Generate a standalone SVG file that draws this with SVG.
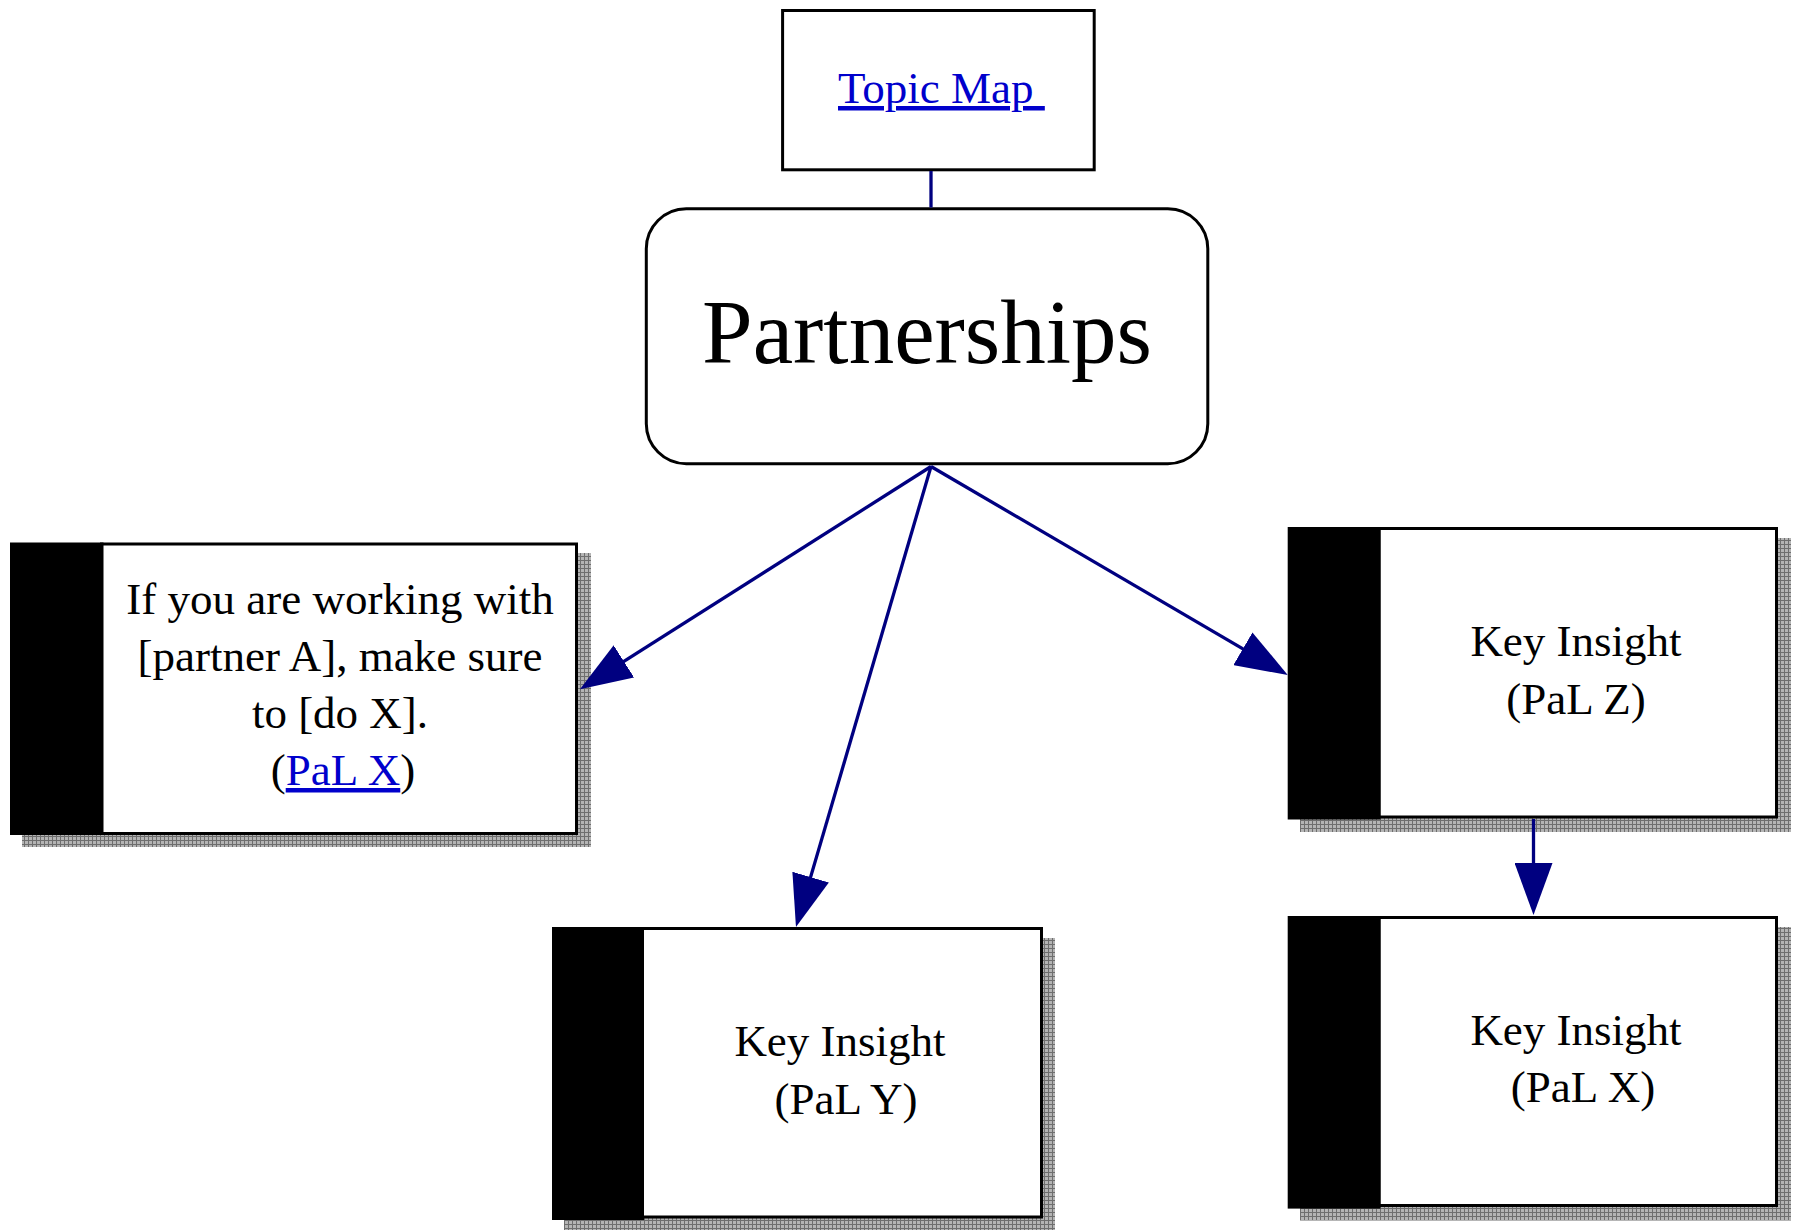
<svg xmlns="http://www.w3.org/2000/svg" width="1800" height="1230" viewBox="0 0 1800 1230">
<defs>
<style>
text{font-family:"Liberation Serif","Times New Roman",serif;fill:#000}
.box{fill:#fff;stroke:#000;stroke-width:3}
.blk{fill:#000}
.shadow{fill:url(#dither)}
.lbl{font-size:45px;text-anchor:middle}
.link{fill:#0000cc;text-decoration:underline}
.conn{stroke:#000080;stroke-width:3.3;fill:none}
</style>
<pattern id="dither" x="0" y="0" width="4" height="4" patternUnits="userSpaceOnUse">
<rect width="4" height="4" fill="#b4b4b4"/>
<rect width="4" height="1" fill="#6e6e6e"/>
<rect width="1" height="4" fill="#6e6e6e"/>
</pattern>
<marker id="arr" viewBox="0 0 52 38" markerUnits="userSpaceOnUse" markerWidth="52" markerHeight="38" refX="42" refY="19" orient="auto">
<path d="M0,0 L52,19 L0,38 z" fill="#000080"/>
</marker>
</defs>
<rect width="1800" height="1230" fill="#fff"/>

<g id="topic-map">
<rect class="box" x="782.6" y="10.5" width="311.6" height="159.3"/>
<text x="838" y="103" font-size="45" class="link">Topic Map&#160;</text>
</g>

<g id="partnerships">
<rect class="box" x="646.3" y="208.8" width="561.5" height="254.9" rx="40" ry="40"/>
<text x="927" y="363" font-size="91" text-anchor="middle">Partnerships</text>
</g>

<g id="insight-a">
<rect class="shadow" x="22" y="553" width="569" height="294"/>
<rect class="box" x="101.5" y="544" width="475" height="289.5"/>
<rect class="blk" x="10" y="542.5" width="93.5" height="292.5"/>
<text class="lbl" x="340" y="614">If you are working with</text>
<text class="lbl" x="340" y="671">[partner A], make sure</text>
<text class="lbl" x="340" y="728">to [do X].</text>
<text class="lbl" x="343" y="785">(<tspan class="link">PaL X</tspan>)</text>
</g>

<g id="insight-y">
<rect class="shadow" x="564" y="938" width="491" height="292"/>
<rect class="box" x="642.5" y="928.5" width="399" height="288.5"/>
<rect class="blk" x="552" y="927" width="92" height="293"/>
<text class="lbl" x="840" y="1056">Key Insight</text>
<text class="lbl" x="846" y="1114">(PaL Y)</text>
</g>

<g id="insight-z">
<rect class="shadow" x="1300" y="538" width="491" height="294"/>
<rect class="box" x="1379" y="528.5" width="397.5" height="288.5"/>
<rect class="blk" x="1287.7" y="527" width="92.8" height="292.5"/>
<text class="lbl" x="1576" y="656">Key Insight</text>
<text class="lbl" x="1576" y="714">(PaL Z)</text>
</g>

<g id="insight-x">
<rect class="shadow" x="1300" y="927" width="491" height="293.5"/>
<rect class="box" x="1379" y="917.5" width="397.5" height="288"/>
<rect class="blk" x="1287.7" y="916" width="92.8" height="292.6"/>
<text class="lbl" x="1576" y="1045">Key Insight</text>
<text class="lbl" x="1583" y="1102">(PaL X)</text>
</g>

<g id="connectors">
<line class="conn" x1="931" y1="171" x2="931" y2="207.5"/>
<line class="conn" x1="931" y1="466.5" x2="588.4" y2="683.9" marker-end="url(#arr)"/>
<line class="conn" x1="931" y1="466.5" x2="798.8" y2="917.4" marker-end="url(#arr)"/>
<line class="conn" x1="931" y1="466.5" x2="1279.1" y2="670" marker-end="url(#arr)"/>
<line class="conn" x1="1533.5" y1="819" x2="1533.5" y2="905" marker-end="url(#arr)"/>
</g>
</svg>
